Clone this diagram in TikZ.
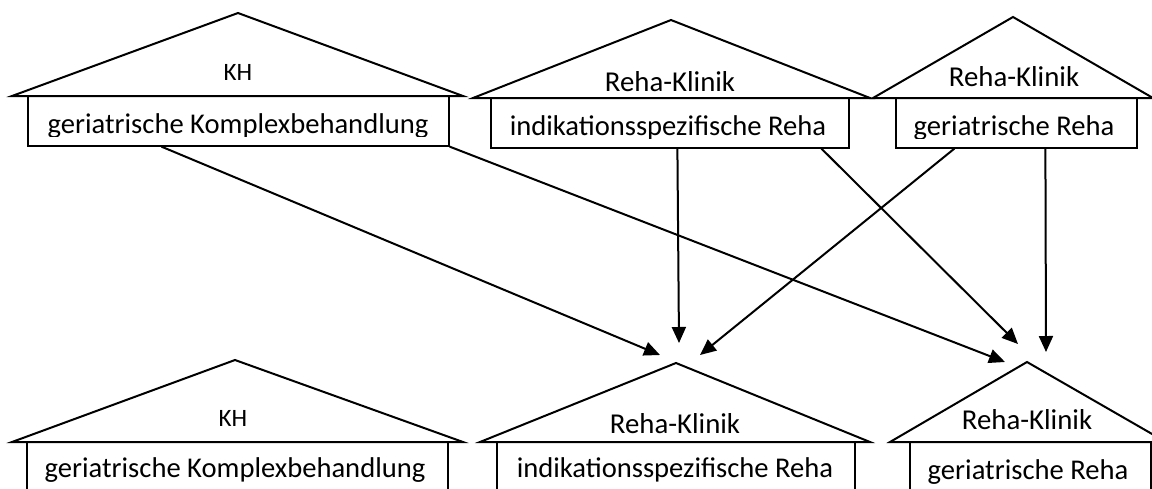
\documentclass[tikz,border=0pt]{standalone}
\usepackage{fontspec}
\setmainfont{Carlito}
\usetikzlibrary{arrows.meta}

\begin{document}
\begin{tikzpicture}[x=0.5pt, y=-0.5pt, >={Triangle[length=8pt,width=7pt]},
    roof/.style={line width=1pt, line join=miter},
    box/.style={draw, line width=0.6pt, inner sep=0pt, minimum height=25pt},
    top/.style={anchor=base, font=\fontsize{14.4}{17}\selectfont},
    kh/.style={anchor=base, font=\fontsize{12.5}{15}\selectfont},
    txt/.style={anchor=base, font=\fontsize{14.3}{17}\selectfont},
    link/.style={->, line width=1pt}]
    \clip (0,0) rectangle (1152,488);

    % upper row
    \draw[roof] (12,96) -- (238,13) -- (463,96) -- cycle;
    \draw[roof] (473,98) -- (671,20) -- (870,98) -- cycle;
    \draw[roof] (873,98) -- (1013,17) -- (1153,98) -- cycle;
    \node[box, minimum width=210.5pt] (kha) at (238.5,121) {};
    \node[box, minimum width=179pt] (ira) at (670,123) {};
    \node[box, minimum width=120.5pt] (gra) at (1016.5,123) {};
    \node[kh] (khna) at (238,80) {KH};
    \node[top] (rkba) at (670,91) {Reha-Klinik};
    \node[top] (rkca) at (1014,86) {Reha-Klinik};
    \begin{scope}
      \clip (28,96) rectangle (449,136);
      \node[txt] (gkba) at (238,133) {geriatrische Komplexbehandlung};
    \end{scope}
    \begin{scope}
      \clip (491,98) rectangle (849,138);
      \node[txt] (isra) at (668,135) {indikationsspezifische Reha};
    \end{scope}
    \begin{scope}
      \clip (896,98) rectangle (1137,138);
      \node[txt] (gera) at (1014,135) {geriatrische Reha};
    \end{scope}

    % lower row
    \draw[roof] (12,442) -- (235,360) -- (463,442) -- cycle;
    \draw[roof] (480,442) -- (676,363) -- (870,442) -- cycle;
    \draw[roof] (890,442) -- (1027,362) -- (1166,442) -- cycle;
    \node[box, minimum width=210.5pt, minimum height=29pt] (khb) at (237.5,471) {};
    \node[box, minimum width=179pt, minimum height=29pt] (irb) at (676,471) {};
    \node[box, minimum width=120.5pt, minimum height=29pt] (grb) at (1030.5,471) {};
    \node[kh] (khnb) at (233,426) {KH};
    \node[top] (rkbb) at (675,433) {Reha-Klinik};
    \node[top] (rkcb) at (1027,429) {Reha-Klinik};
    \node[txt] (gkbb) at (235,477) {geriatrische Komplexbehandlung};
    \node[txt] (isrb) at (675,477) {indikationsspezifische Reha};
    \node[txt] (gerb) at (1028,479) {geriatrische Reha};

    % arrow ends
    \coordinate (t1) at (660,355);
    \coordinate (t2) at (1005,362);
    \coordinate (t3) at (679,343);
    \coordinate (t4) at (1018,344);
    \coordinate (t5) at (700,355);
    \coordinate (t6) at (1046,352);

    \draw[link] ([xshift=67pt]kha.south west) -- (t1);
    \draw[link] (kha.south east) -- (t2);
    \draw[link] ([xshift=93.5pt]ira.south west) -- (t3);
    \draw[link] ([xshift=165.5pt]ira.south west) -- (t4);
    \draw[link] ([xshift=29.5pt]gra.south west) -- (t5);
    \draw[link] ([xshift=75pt]gra.south west) -- (t6);
\end{tikzpicture}
\end{document}
